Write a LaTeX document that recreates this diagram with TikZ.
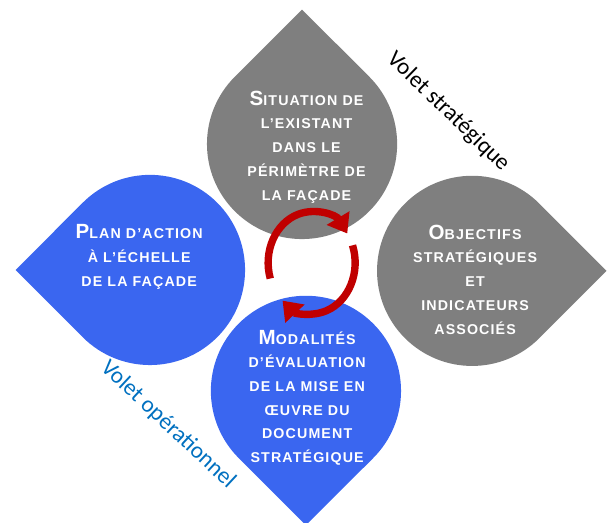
\documentclass[tikz,border=0pt]{standalone}
\usepackage{fontspec}
\setmainfont{Liberation Sans}
\newfontfamily\titre{Liberation Sans}[LetterSpace=8]
\newfontfamily\calibri{Carlito}
\usetikzlibrary{arrows.meta}

\definecolor{gris}{HTML}{7F7F7F}
\definecolor{bleu}{HTML}{3A66F0}
\definecolor{rouge}{HTML}{C00000}
\definecolor{bleuvolet}{HTML}{0070C0}

% big first letter of the small caps titles
\newcommand{\ini}[1]{{\fontsize{19.5}{22.5}\selectfont #1}}
% drop: centre, direction of the tip, colour
\newcommand{\goutte}[3]{%
  \begin{scope}[shift={(#1)}]
    \fill[#3] (#2+45:3.17) arc[start angle=#2+45, delta angle=270, radius=3.17] -- (#2:4.48) -- cycle;
  \end{scope}}

\begin{document}
\begin{tikzpicture}[
    etiquette/.style={text=white, align=center, font=\titre\bfseries\fontsize{13.5}{22.5}\selectfont},
    volet/.style={font=\calibri\fontsize{22}{24}\selectfont},
    cyclearrow/.style={rouge, line width=7pt, -{Triangle[length=0.6cm, width=0.85cm]}}
]
\useasboundingbox (-10.17,-8.5) rectangle (10.1,8.93);

\goutte{-0.1,4.13}{90}{gris}
\goutte{5.57,-0.1}{0}{gris}
\goutte{-5.17,-0.07}{180}{bleu}
\goutte{0.03,-4.1}{270}{bleu}

\node[etiquette] (situation) at (0.05,4.03) {\ini{S}ITUATION DE\\L’EXISTANT\\DANS LE\\PÉRIMÈTRE DE\\LA FAÇADE};
\node[etiquette] (objectifs) at (5.67,-0.39) {\ini{O}BJECTIFS\\STRATÉGIQUES\\ET\\INDICATEURS\\ASSOCIÉS};
\node[etiquette] (plan) at (-5.53,0.37) {\ini{P}LAN D’ACTION\\À L’ÉCHELLE\\DE LA FAÇADE};
\node[etiquette] (modalites) at (0.07,-4.33) {\ini{M}ODALITÉS\\D’ÉVALUATION\\DE LA MISE EN\\ŒUVRE DU\\DOCUMENT\\STRATÉGIQUE};

% cycle in the middle
\coordinate (cycle) at (0.22,0.17);
\draw[cyclearrow] ([shift={(198:1.45 and 1.7)}]cycle) arc[start angle=198, end angle=35, x radius=1.45, y radius=1.7];
\draw[cyclearrow] ([shift={(20:1.45 and 1.7)}]cycle) arc[start angle=20, end angle=-132, x radius=1.45, y radius=1.7];

\node[volet, rotate=-44] (strategique) at (4.77,5.2) {Volet stratégique};
\node[volet, rotate=-43, text=bleuvolet] (operationnel) at (-4.57,-5.23) {Volet opérationnel};
\end{tikzpicture}
\end{document}
